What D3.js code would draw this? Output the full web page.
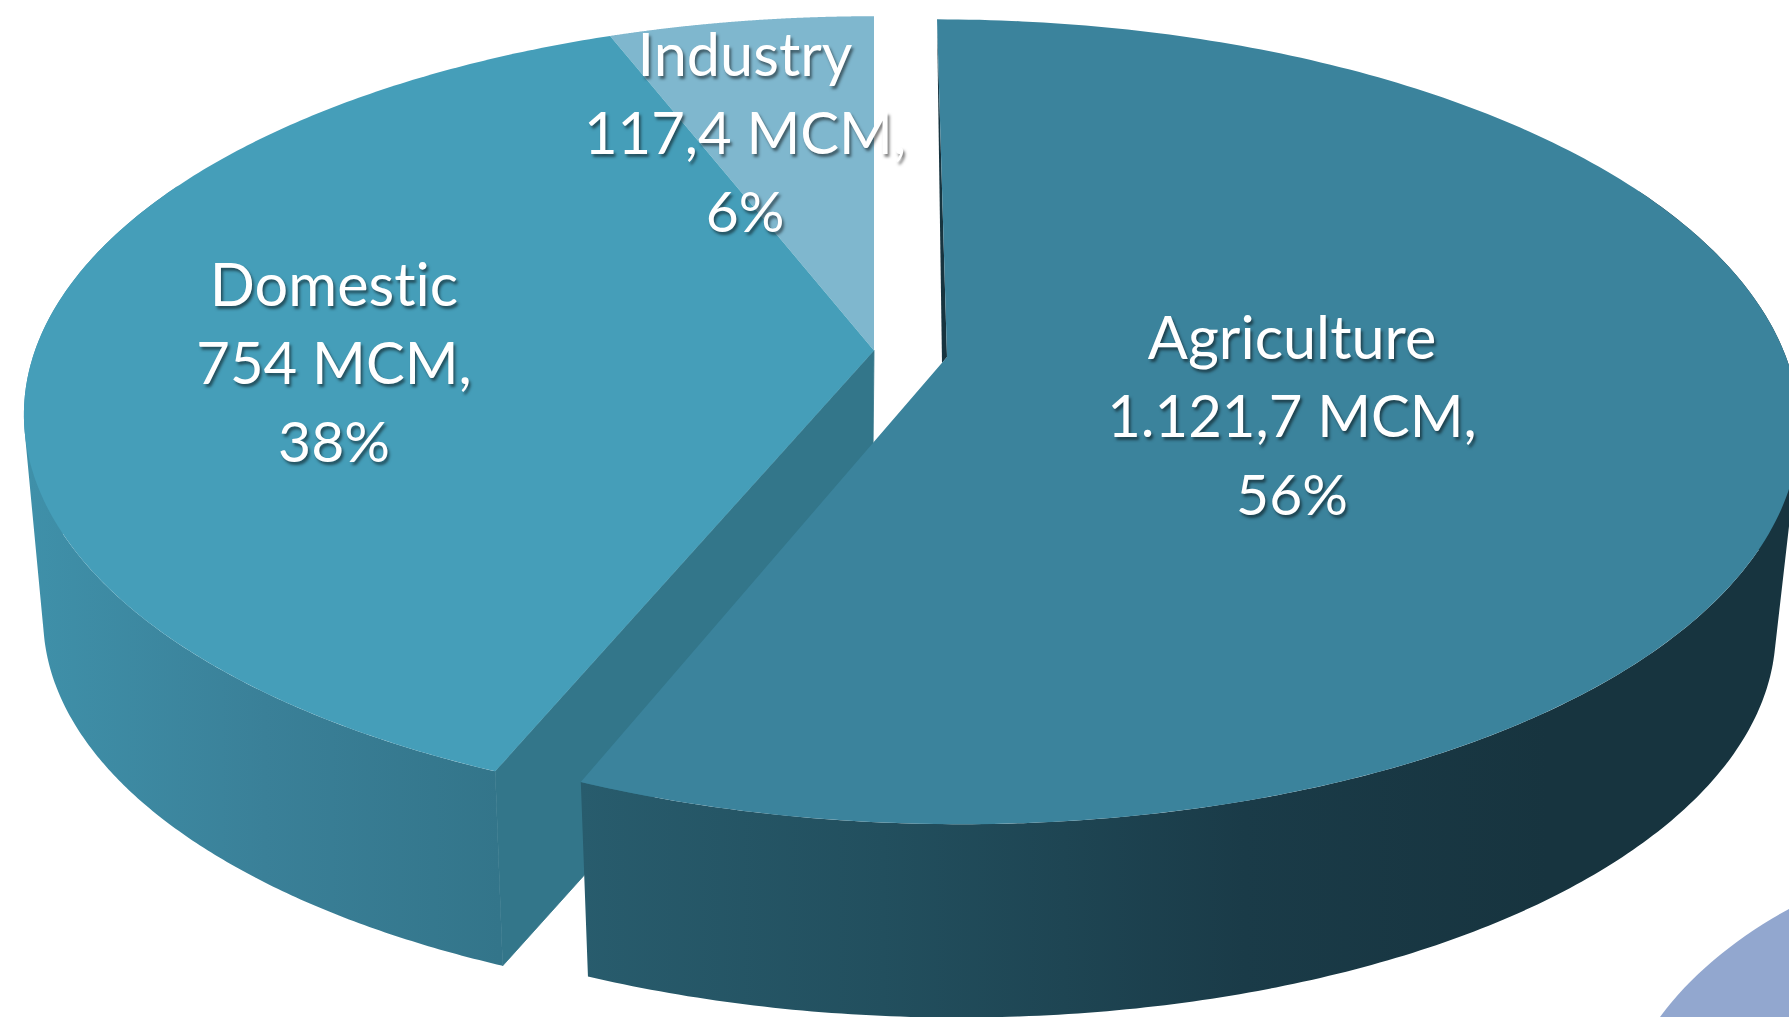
<!DOCTYPE html>
<html>
<head>
<meta charset="utf-8">
<script src="https://cdn.jsdelivr.net/npm/d3@7"></script>
<style>
  html, body { margin: 0; padding: 0; background: #fff; overflow: hidden; }
  svg { display: block; }
  text { font-family: Lato, "Open Sans", sans-serif; fill: #fff; text-anchor: middle;
         font-variant-ligatures: none;
         text-shadow: 2px 3px 3px rgba(0,0,0,.5); }
</style>
</head>
<body>
<svg id="chart" width="1789" height="1017"></svg>
<script>
// Water use by sector
const categories = ["Agriculture", "Domestic", "Industry"];
const volumes = [1121.7, 754, 117.4];
const unit = "MCM";
const topColors = ["#3b839c", "#459eb9", "#7fb7ce"];

// Each sector's exploded hub: x, y, horizontal shear, vertical scale
const hubs = [[947, 357, 11.6, 1], [874, 350.5, 0, 0.99], [874, 350.5, 0, 0.99]];
const labelAnchors = [[1292, 359], [334, 306], [745, 76]];
const lineStep = 78;
const lineSizes = [59.4, 58, 57];

// Tilted-disc projection: a unit circle seen from above with perspective
const spanX = 839, spanY = 392, persp = 0.161;
const wallDepth = 205, wallDrift = -2, wallScale = 0.975;

const svg = d3.select("#chart");
const defs = svg.append("defs");

const grad = (id, stops) => {
  const g = defs.append("linearGradient").attr("id", id)
    .attr("gradientUnits", "userSpaceOnUse")
    .attr("x1", stops.x1).attr("x2", stops.x2).attr("y1", 0).attr("y2", 0);
  stops.c.forEach(([o, col]) => g.append("stop").attr("offset", o).attr("stop-color", col));
};
grad("wallAgri", { x1: 581, x2: 1789, c: [[0, "#285c6d"], [0.25, "#224f5e"], [0.55, "#1a3b48"], [0.8, "#17343f"], [1, "#17343f"]] });
grad("wallDom", { x1: 30, x2: 500, c: [[0, "#3f90a9"], [0.5, "#3a8098"], [1, "#33758a"]] });

const pie = d3.pie().sort(null).value(d => d).startAngle(0).endAngle(2 * Math.PI);
const arcs = pie(volumes);
const total = d3.sum(volumes);

const comma = d3.formatLocale({ decimal: ",", thousands: ".", grouping: [3], currency: ["", ""] });
const fmtVol = comma.format(",.1~f");
const fmtPct = d3.format(".0%");

// Unit-circle angle (clockwise from the far side) to screen position
function rim(hub, a) {
  const x = Math.sin(a), y = -Math.cos(a);
  const w = 1 - persp * y;
  return [hub[0] + (spanX * x + hub[2] * y) / w, hub[1] + hub[3] * spanY * y / w];
}
// Same point on the lower face of the disc
function lower(hub, p) {
  return [hub[0] + wallDrift + wallScale * (p[0] - hub[0]),
          hub[1] + wallDepth + wallScale * (p[1] - hub[1])];
}

const sweep = (a0, a1) => d3.range(0, 241).map(i => a0 + (a1 - a0) * i / 240);
const line = d3.line();

function topFace(i) {
  const hub = hubs[i], d = arcs[i];
  return line([[hub[0], hub[1]], ...sweep(d.startAngle, d.endAngle).map(a => rim(hub, a))]) + "Z";
}
// Outer wall as quads wound the same way, so the silhouette fills solid
function outerWall(i, a0, a1) {
  const hub = hubs[i];
  return d3.pairs(sweep(a0, a1)).map(([a, b]) => {
    const p = rim(hub, a), q = rim(hub, b);
    const quad = [p, q, lower(hub, q), lower(hub, p)];
    if (d3.polygonArea(quad) < 0) quad.reverse();
    return line(quad) + "Z";
  }).join("");
}
function radialWall(i, a) {
  const hub = hubs[i], p = rim(hub, a), c = [hub[0], hub[1]];
  return line([c, p, lower(hub, p), lower(hub, c)]) + "Z";
}

// Domestic and Industry sit behind, Agriculture in front.
// Walls only sweep the rim that faces the viewer.
const quarter = Math.PI / 2;
svg.append("path").attr("d", outerWall(1, arcs[1].startAngle, 3.3 * quarter)).attr("fill", "url(#wallDom)");
svg.append("path").attr("d", radialWall(1, arcs[1].startAngle))
  .attr("fill", "#33768a").attr("stroke", "#33768a").attr("stroke-width", 0.8);
svg.append("path").attr("d", topFace(2)).attr("fill", topColors[2]);
svg.append("path").attr("d", topFace(1)).attr("fill", topColors[1]);

svg.append("path").attr("d", outerWall(0, 0.7 * quarter, arcs[0].endAngle)).attr("fill", "url(#wallAgri)");
// Thin sliver of the Agriculture cut face at the far side
{
  const hub = hubs[0], far = rim(hub, arcs[0].startAngle);
  svg.append("path")
    .attr("d", line([[hub[0], hub[1]], far, [hub[0] - 5, hub[1] + 6]]) + "Z")
    .attr("fill", "#17343f");
}
svg.append("path").attr("d", topFace(0)).attr("fill", topColors[0]);

// Corner of the neighbouring decorative disc
svg.append("path")
  .attr("d", "M1660,1017C1690,975 1740,935 1789,909L1789,1017Z")
  .attr("fill", "#92a7cf");

// Sector labels
categories.forEach((name, i) => {
  const [x, y] = labelAnchors[i];
  const lines = [name, `${fmtVol(volumes[i])} ${unit},`, fmtPct(volumes[i] / total)];
  const t = svg.append("text");
  lines.forEach((s, j) => t.append("tspan")
    .attr("x", x).attr("y", y + j * lineStep)
    .attr("font-size", lineSizes[j]).text(s));
});
</script>
</body>
</html>
